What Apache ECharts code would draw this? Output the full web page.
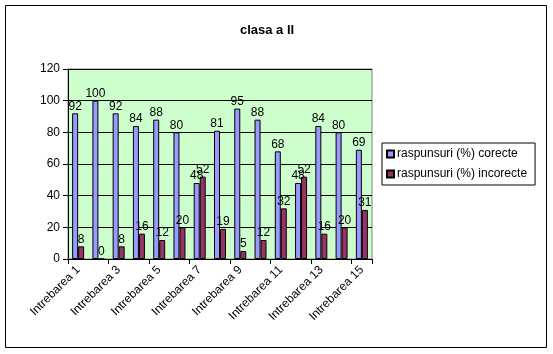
<!DOCTYPE html>
<html>
<head>
<meta charset="utf-8">
<script src="https://cdn.jsdelivr.net/npm/echarts@6/dist/echarts.min.js"></script>
<style>
    html, body { margin: 0; padding: 0; background: #fff; }
    #chart { width: 553px; height: 354px; }
</style>
</head>
<body>
<div id="chart"></div>
<script>
    var categories = ['Intrebarea 1', 'Intrebarea 2', 'Intrebarea 3', 'Intrebarea 4', 'Intrebarea 5',
        'Intrebarea 6', 'Intrebarea 7', 'Intrebarea 8', 'Intrebarea 9', 'Intrebarea 10',
        'Intrebarea 11', 'Intrebarea 12', 'Intrebarea 13', 'Intrebarea 14', 'Intrebarea 15'];
    var corecte = [92, 100, 92, 84, 88, 80, 48, 81, 95, 88, 68, 48, 84, 80, 69];
    var incorecte = [8, 0, 8, 16, 12, 20, 52, 19, 5, 12, 32, 52, 16, 20, 31];
    var yTicks = { min: 0, max: 120, step: 20 };

    var font = 'Liberation Sans, Arial, sans-serif';
    var chart = echarts.init(document.getElementById('chart'));

    var barLabel = {
        show: true,
        position: 'top',
        distance: 1,
        color: '#000',
        fontSize: 12,
        fontFamily: font
    };

    chart.setOption({
        animation: false,
        title: {
            text: 'clasa a II',
            left: 262,
            top: 19,
            textAlign: 'center',
            textStyle: { fontSize: 13, fontWeight: 'bold', color: '#000', fontFamily: font }
        },
        graphic: [{
            type: 'rect',
            shape: { x: 5.5, y: 5.5, width: 541, height: 342 },
            style: { fill: 'none', stroke: '#000', lineWidth: 1 },
            silent: true
        }],
        legend: {
            orient: 'vertical',
            left: 382,
            top: 143,
            padding: [5, 8, 5, 4],
            itemGap: 8,
            borderColor: '#000',
            borderWidth: 1,
            icon: 'rect',
            itemWidth: 7,
            itemHeight: 7,
            textStyle: { fontSize: 12, color: '#000', fontFamily: font, padding: [0, 0, 0, -2] },
            data: ['raspunsuri (%) corecte', 'raspunsuri (%) incorecte']
        },
        grid: {
            left: 68,
            top: 69,
            right: 181,
            bottom: 95,
            show: true,
            backgroundColor: '#CCFFCC',
            borderColor: '#808080',
            borderWidth: 1
        },
        xAxis: {
            type: 'category',
            data: categories,
            axisLine: { lineStyle: { color: '#000' } },
            axisTick: { show: true, length: 5, lineStyle: { color: '#000' } },
            axisLabel: {
                interval: 1,
                rotate: 45,
                color: '#000',
                fontSize: 12,
                fontFamily: font,
                margin: 9
            }
        },
        yAxis: {
            type: 'value',
            min: yTicks.min,
            max: yTicks.max,
            interval: yTicks.step,
            axisLine: { show: true, lineStyle: { color: '#000' } },
            axisTick: { show: true, length: 5, lineStyle: { color: '#000' } },
            axisLabel: { color: '#000', fontSize: 12, fontFamily: font, margin: 8 },
            splitLine: { lineStyle: { color: '#000' } }
        },
        series: [
            {
                name: 'raspunsuri (%) corecte',
                type: 'bar',
                data: corecte,
                barWidth: 6,
                barGap: '0%',
                itemStyle: { color: '#9999FF', borderColor: '#000', borderWidth: 1 },
                label: barLabel
            },
            {
                name: 'raspunsuri (%) incorecte',
                type: 'bar',
                data: incorecte,
                barWidth: 6,
                itemStyle: { color: '#993366', borderColor: '#000', borderWidth: 1 },
                label: barLabel
            }
        ]
    });
</script>
</body>
</html>
